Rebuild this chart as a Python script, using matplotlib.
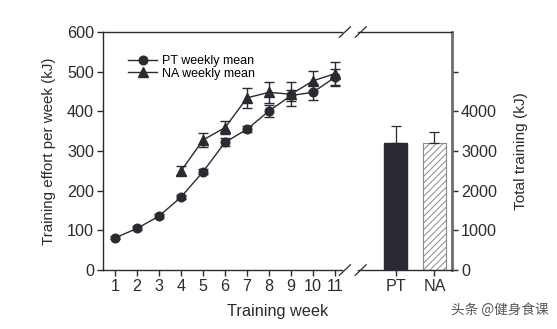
import numpy as np
import matplotlib
matplotlib.use("Agg")
import matplotlib.pyplot as plt
from matplotlib.transforms import blended_transform_factory

plt.rcParams["font.family"] = ["Liberation Sans", "DejaVu Sans"]
plt.rcParams["hatch.linewidth"] = 0.7

# Weekly means (kJ)
weeks = [1, 2, 3, 4, 5, 6, 7, 8, 9, 10, 11]
pt_mean = [81, 105, 136, 184, 248, 322, 355, 401, 440, 448, 486]
pt_err = [4, 5, 5, 6, 6, 10, 8, 15, 15, 20, 22]

na_weeks = [4, 5, 6, 7, 8, 9, 10, 11]
na_mean = [250, 328, 359, 434, 448, 443, 477, 495]
na_err = [11, 17, 17, 26, 27, 30, 25, 29]

# Total training (kJ)
groups = ["PT", "NA"]
total_mean = [3200, 3210]
total_err = [430, 270]

DARK = "#2a2a33"
GRAY = "#6e6e6e"

# x layout (in week units)
X_MIN, X_MAX = 0.45, 16.32
BAR_X = [13.76, 15.52]
BAR_W = 1.07
BREAK_L, BREAK_R = 11.3, 12.05
SLASHES = [11.45, 12.17]

fig = plt.figure(figsize=(5.57, 3.29), dpi=100)
ax = fig.add_axes([0.185, 0.1793, 0.6265, 0.7234])
ax2 = ax.twinx()

ebar = dict(fmt="none", ecolor=DARK, capsize=3.5, capthick=1, elinewidth=1)
ax.errorbar(weeks, pt_mean, yerr=pt_err, zorder=4, **ebar)
ax.errorbar(na_weeks, na_mean, yerr=na_err, zorder=3, **ebar)
pt_line, = ax.plot(weeks, pt_mean, color=DARK, marker="o", ms=6.2, lw=1, zorder=5)
na_line, = ax.plot(na_weeks, na_mean, color=DARK, marker="^", ms=6.8, lw=1, zorder=4)

bar_err = dict(ecolor=DARK, capsize=3.5, elinewidth=0.9, capthick=0.9)
ax2.bar(BAR_X[0], total_mean[0], width=BAR_W, color=DARK, edgecolor=DARK,
        yerr=[[0], [total_err[0]]], error_kw=bar_err)
ax2.bar(BAR_X[1], total_mean[1], width=BAR_W, color="white", edgecolor="#8a8a8a",
        hatch="/////", lw=0.8, yerr=[[0], [total_err[1]]], error_kw=bar_err)

ax.set_xlim(X_MIN, X_MAX)
ax.set_ylim(0, 600)
ax2.set_ylim(0, 6000)

ax.set_xticks(weeks + BAR_X)
ax.set_xticklabels([str(w) for w in weeks] + groups)
ax.set_yticks(np.arange(0, 601, 100))
ax2.set_yticks(np.arange(0, 5001, 1000))
ax2.set_yticklabels(["0", "1000", "2000", "3000", "4000", ""])

for a in (ax, ax2):
    a.tick_params(direction="out", length=4, width=1, colors=DARK, labelsize=11.6, pad=2.5)

# spines with a break between week 11 and the bars
ax.spines["right"].set_visible(False)
ax2.spines["left"].set_visible(False)
for s in ("top", "bottom"):
    ax.spines[s].set_bounds(X_MIN, BREAK_L)
    ax2.spines[s].set_bounds(BREAK_R, X_MAX)
for a in (ax, ax2):
    for s in a.spines.values():
        s.set_color(DARK)
        s.set_linewidth(1)
ax2.spines["right"].set_color(GRAY)
ax2.spines["right"].set_linewidth(2)

trans = blended_transform_factory(ax.transData, ax.transAxes)
for xs in SLASHES:
    for yb in (0, 1):
        ax.plot([xs - 0.25, xs + 0.25], [yb - 0.022, yb + 0.022], color=DARK, lw=0.9,
                transform=trans, clip_on=False)

ax.set_xlabel("Training week", fontsize=11.7, color=DARK, labelpad=7)
ax.set_ylabel("Training effort per week (kJ)", fontsize=10.9, color=DARK, labelpad=8)
ax2.set_ylabel("Total training (kJ)", fontsize=11.1, color=DARK, labelpad=12)

ax.legend([pt_line, na_line], ["PT weekly mean", "NA weekly mean"],
          loc="upper left", bbox_to_anchor=(0.04, 0.95), frameon=False,
          fontsize=9, handlelength=2.3, handletextpad=0.4, labelspacing=0.05)

fig.text(0.985, 0.058, "头条 @健身食课", ha="right", va="center", fontsize=9.8,
         color="#555555", family=["Noto Sans CJK SC", "DejaVu Sans"])

fig.savefig("out.png", dpi=100)
